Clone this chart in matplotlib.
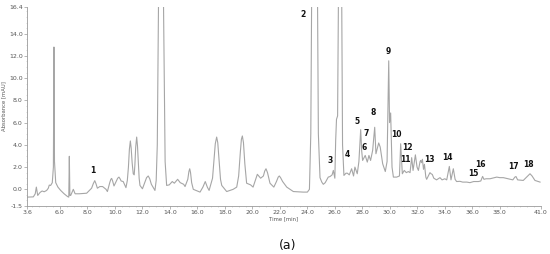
import numpy as np
import matplotlib
matplotlib.use('Agg')
import matplotlib.pyplot as plt
from matplotlib.ticker import FixedLocator

# trace (time in min, absorbance in mAU)
time_min = [3.62, 4.06, 4.20, 4.28, 4.38, 4.55, 4.70, 4.85, 5.03, 5.15, 5.22, 5.32, 5.44, 5.52, 5.56, 5.60,
            5.69, 5.85, 6.05, 6.30, 6.55, 6.64, 6.68, 6.72, 6.78, 6.97, 7.10, 7.40, 7.94, 8.30, 8.42, 8.53,
            8.62, 8.72, 8.90, 9.10, 9.35, 9.45, 9.62, 9.70, 9.76, 9.83, 9.93, 10.10, 10.20, 10.29, 10.37,
            10.45, 10.60, 10.80, 10.90, 10.98, 11.05, 11.12, 11.18, 11.25, 11.33, 11.40, 11.45, 11.51, 11.58,
            11.64, 11.70, 11.76, 11.82, 12.00, 12.20, 12.30, 12.42, 12.53, 12.65, 12.91, 13.00, 13.08, 13.17,
            13.35, 13.53, 13.65, 13.76, 13.95, 14.17, 14.32, 14.56, 14.75, 15.00, 15.10, 15.30, 15.38, 15.44,
            15.50, 15.58, 15.70, 16.19, 16.40, 16.57, 16.72, 16.85, 17.10, 17.20, 17.30, 17.40, 17.48, 17.58,
            17.68, 17.77, 18.13, 18.60, 18.86, 19.00, 19.12, 19.20, 19.27, 19.35, 19.45, 19.58, 19.87, 20.05,
            20.36, 20.60, 20.80, 20.90, 20.99, 21.10, 21.28, 21.56, 21.75, 21.88, 21.96, 22.05, 22.20, 22.50,
            22.98, 23.70, 24.00, 24.15, 24.25, 24.31, 24.52, 24.74, 24.80, 24.92, 25.05, 25.16, 25.30, 25.52,
            25.65, 25.80, 25.89, 26.00, 26.06, 26.12, 26.20, 26.26, 26.38, 26.50, 26.56, 26.66, 26.81, 26.91,
            27.05, 27.22, 27.36, 27.46, 27.63, 27.75, 27.88, 27.95, 28.02, 28.21, 28.36, 28.48, 28.60, 28.75,
            28.90, 28.99, 29.19, 29.30, 29.48, 29.67, 29.80, 29.92, 29.98, 30.06, 30.16, 30.26, 30.50, 30.70,
            30.79, 30.91, 31.05, 31.20, 31.35, 31.47, 31.59, 31.69, 31.86, 31.98, 32.08, 32.20, 32.25, 32.30,
            32.37, 32.45, 32.52, 32.62, 32.68, 32.80, 32.92, 33.00, 33.09, 33.20, 33.40, 33.65, 33.80, 34.00,
            34.14, 34.33, 34.45, 34.62, 34.75, 34.86, 35.10, 35.30, 35.60, 35.83, 36.10, 36.44, 36.62, 36.75,
            36.85, 37.00, 37.29, 37.78, 38.00, 38.26, 38.60, 38.74, 38.95, 39.10, 39.18, 39.30, 39.71, 39.95,
            40.20, 40.35, 40.56, 40.93]
absorbance = [-0.70, -0.68, -0.40, 0.20, -0.55, -0.28, -0.15, -0.22, -0.10, 0.10, 0.38, 0.35, 0.60, 2.0, 12.8, 2.5,
              0.60, 0.20, -0.10, -0.40, -0.65, -0.70, 2.97, -0.55, -0.55, 0.00, -0.40, -0.40, -0.35, 0.10, 0.50, 0.78,
              0.50, 0.10, 0.25, 0.25, 0.00, -0.20, 0.60, 0.90, 0.98, 0.75, 0.30, 0.75, 1.00, 1.10, 0.95,
              0.75, 0.70, 0.15, 0.80, 2.00, 3.60, 4.35, 3.70, 2.40, 1.40, 1.30, 2.20, 3.80, 4.70,
              3.90, 2.40, 1.00, 0.35, 0.05, 0.70, 1.05, 1.20, 0.95, 0.45, -0.10, 0.80, 4.00, 17.0,
              30.0, 17.0, 2.5, 0.35, 0.40, 0.70, 0.55, 0.90, 0.60, 0.45, 0.25, 0.90, 1.60, 1.85,
              1.50, 0.60, 0.00, -0.25, 0.20, 0.70, 0.20, -0.10, 1.00, 2.60, 4.10, 4.70, 4.20, 2.50,
              0.90, 0.35, -0.20, 0.00, 0.20, 1.20, 3.30, 4.50, 4.80, 4.20, 2.30, 0.55, 0.40, 0.20,
              1.35, 1.00, 1.20, 1.65, 1.85, 1.50, 0.55, 0.20, 0.70, 1.10, 1.20, 1.05, 0.70, 0.20,
              -0.20, -0.25, -0.25, 0.00, 5.0, 17.0, 40.0, 17.0, 5.0, 1.05, 0.65, 0.45, 0.60, 1.10,
              1.15, 1.30, 1.70, 1.00, 4.4, 6.3, 6.6, 17.0, 40.0, 17.0, 4.0, 1.25, 1.45, 1.45,
              1.30, 1.85, 1.20, 2.00, 1.40, 2.50, 5.37, 3.50, 2.60, 3.05, 2.45, 3.05, 2.60, 3.5,
              5.58, 3.20, 4.17, 3.80, 2.30, 1.60, 2.5, 11.56, 6.0, 6.87, 2.00, 1.10, 1.10, 1.2,
              4.10, 1.40, 1.70, 1.50, 1.60, 1.50, 2.85, 1.70, 3.10, 2.00, 1.70, 2.50, 2.60, 2.40,
              2.70, 1.80, 2.25, 1.10, 0.90, 1.20, 1.50, 1.40, 1.34, 1.00, 0.85, 1.05, 0.85, 0.95,
              0.85, 2.06, 0.85, 1.85, 0.90, 0.70, 0.72, 0.65, 0.65, 0.60, 0.70, 0.70, 0.75, 1.16,
              0.90, 0.95, 0.95, 1.10, 1.05, 1.05, 0.95, 0.90, 0.85, 1.10, 1.15, 0.85, 0.80, 1.10,
              1.40, 1.20, 0.80, 0.65]

# peak numbers and where they are written
peak_labels = ['1', '2', '3', '4', '5', '6', '7', '8', '9', '10', '11', '12', '13', '14', '15', '16', '17', '18']
label_t = [8.4, 23.68, 25.65, 26.9, 27.63, 28.12, 28.29, 28.78, 29.92, 30.47, 31.13, 31.3, 32.87, 34.16, 36.07, 36.6, 39.03, 40.07]
label_a = [1.7, 15.7, 2.6, 3.1, 6.1, 3.75, 5.0, 6.9, 12.4, 4.95, 2.7, 3.8, 2.67, 2.85, 1.46, 2.25, 2.07, 2.2]

x_ticks = [3.6, 6.0, 8.0, 10.0, 12.0, 14.0, 16.0, 18.0, 20.0, 22.0, 24.0, 26.0, 28.0, 30.0, 32.0, 34.0, 36.0, 38.0, 41.0]
y_ticks = [-1.5, 0.0, 2.0, 4.0, 6.0, 8.0, 10.0, 12.0, 14.0, 16.4]

fig = plt.figure(figsize=(5.5, 2.54), dpi=100)
ax = fig.add_axes([27/550, 1-206/254, 514/550, 199/254])

ax.plot(time_min, absorbance, color='#a6a6a6', lw=0.8)
ax.set_xlim(3.6, 41.0)
ax.set_ylim(-1.5, 16.4)

ax.xaxis.set_major_locator(FixedLocator(x_ticks))
ax.yaxis.set_major_locator(FixedLocator(y_ticks))
ax.set_xticklabels(['%.1f' % v for v in x_ticks])
ax.set_yticklabels(['%.1f' % v for v in y_ticks])
ax.xaxis.set_minor_locator(FixedLocator(np.arange(4.0, 41.0, 0.5)))
ax.yaxis.set_minor_locator(FixedLocator(np.arange(-1.0, 16.4, 0.5)))

for s in ['top', 'right']:
    ax.spines[s].set_visible(False)
for s in ['left', 'bottom']:
    ax.spines[s].set_color('#9a9a9a')
    ax.spines[s].set_linewidth(0.6)
ax.tick_params(which='major', length=2, width=0.5, color='#9a9a9a', labelsize=4.5, labelcolor='#555555', pad=1)
ax.tick_params(which='minor', length=1, width=0.4, color='#bdbdbd')

ax.set_xlabel('Time [min]', fontsize=3.8, color='#555555', labelpad=1)
ax.set_ylabel('Absorbance [mAU]', fontsize=3.8, color='#555555', labelpad=2)

for lab, t, a in zip(peak_labels, label_t, label_a):
    ax.text(t, a, lab, fontsize=5.5, fontweight='bold', ha='center', va='center', color='#111111')

fig.text(288/550, 1-246/254, '(a)', fontsize=9, ha='center', va='center', color='#111111')

fig.savefig('out.png', dpi=100)
